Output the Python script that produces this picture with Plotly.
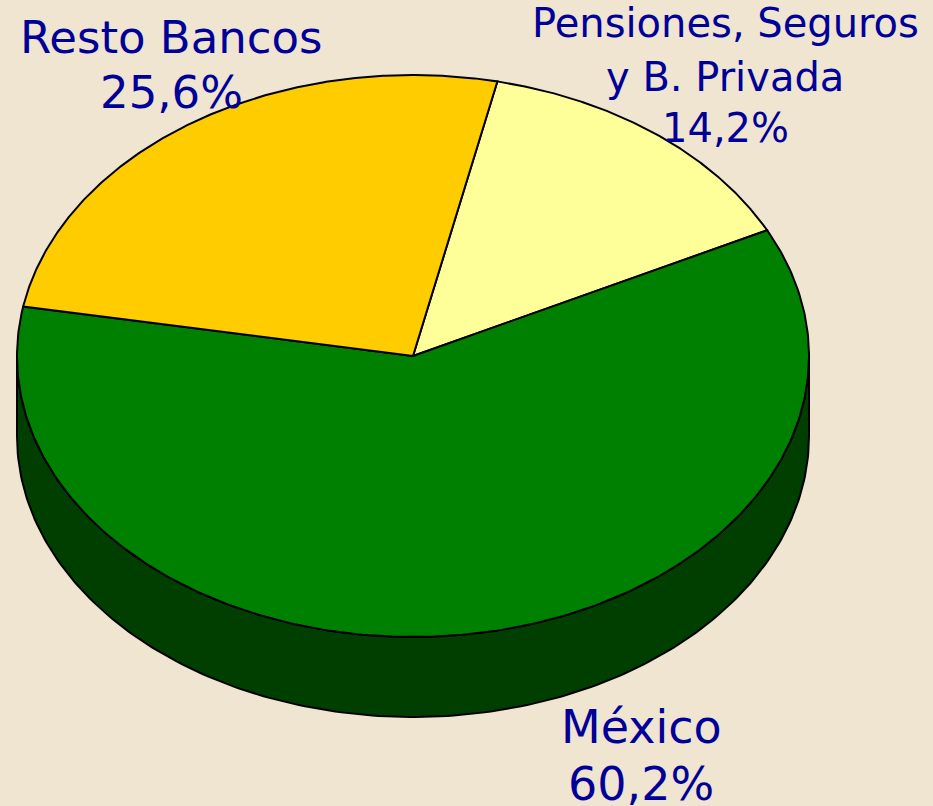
import numpy as np
import plotly.graph_objects as go

# ---- data ----
categories = ["Pensiones, Seguros y B. Privada", "México", "Resto Bancos"]
label_lines = [["Pensiones, Seguros", "y B. Privada"], ["México"], ["Resto Bancos"]]
values = [14.2, 60.2, 25.6]
top_colors = ["#FFFF99", "#008000", "#FFCC00"]
side_colors = ["#99994C", "#003F00", "#996600"]

# ---- geometry (pixel space) ----
W, H = 933, 806
cx, cy, rx, ry, depth = 413, 356, 396, 281, 80
start_deg = 77.7  # parametric angle where first slice starts, going clockwise

def pt(t_deg, dy=0.0):
    t = np.radians(t_deg)
    return cx + rx * np.cos(t), cy - ry * np.sin(t) + dy

fig = go.Figure()
total = sum(values)
bounds = []
a = start_deg
for v in values:
    b = a - v / total * 360.0
    bounds.append((a, b))
    a = b

# side walls (front half: parametric angle in [180, 360])
for (a0, a1), col in zip(bounds, side_colors):
    for k in (-360, 0, 360):
        lo = max(min(a0, a1) + k, 180)
        hi = min(max(a0, a1) + k, 360)
        if hi > lo:
            ts = np.linspace(lo, hi, 200)
            xs_top, ys_top = pt(ts)
            xs_bot, ys_bot = pt(ts[::-1], depth)
            xs = np.concatenate([xs_top, xs_bot, xs_top[:1]])
            ys = np.concatenate([ys_top, ys_bot, ys_top[:1]])
            fig.add_trace(go.Scatter(x=xs, y=ys, mode="lines", fill="toself",
                                     fillcolor=col, line=dict(color="black", width=2),
                                     hoverinfo="skip", showlegend=False))

# top slices
for (a0, a1), col, name, v in zip(bounds, top_colors, categories, values):
    ts = np.linspace(a0, a1, 300)
    xs, ys = pt(ts)
    xs = np.concatenate([[cx], xs, [cx]])
    ys = np.concatenate([[cy], ys, [cy]])
    fig.add_trace(go.Scatter(x=xs, y=ys, mode="lines", fill="toself",
                             fillcolor=col, line=dict(color="black", width=2),
                             name=name, hoverinfo="name", showlegend=False))

# labels: (center x, list of line center y, font size)
label_pos = [(725, [23, 77, 128], 40), (641, [727, 784], 46), (171, [37, 92], 45)]
txt_color = "#000099"
for lines, v, (lx, lys, fs) in zip(label_lines, values, label_pos):
    pct = f"{v:.1f}".replace(".", ",") + "%"
    for txt, ly in zip(lines + [pct], lys):
        fig.add_annotation(x=lx, y=ly, xref="x", yref="y", text=txt, showarrow=False,
                           xanchor="center", yanchor="middle",
                           font=dict(family="DejaVu Sans", size=fs, color=txt_color))

fig.update_layout(
    width=W, height=H, margin=dict(l=0, r=0, t=0, b=0),
    paper_bgcolor="#EFE5D1", plot_bgcolor="#EFE5D1",
    xaxis=dict(range=[0, W], visible=False, fixedrange=True),
    yaxis=dict(range=[H, 0], visible=False, fixedrange=True),
    showlegend=False,
)
fig.write_html("out.html", config={"displayModeBar": False},
               post_script="document.body.style.margin='0';document.body.style.overflow='hidden';")
